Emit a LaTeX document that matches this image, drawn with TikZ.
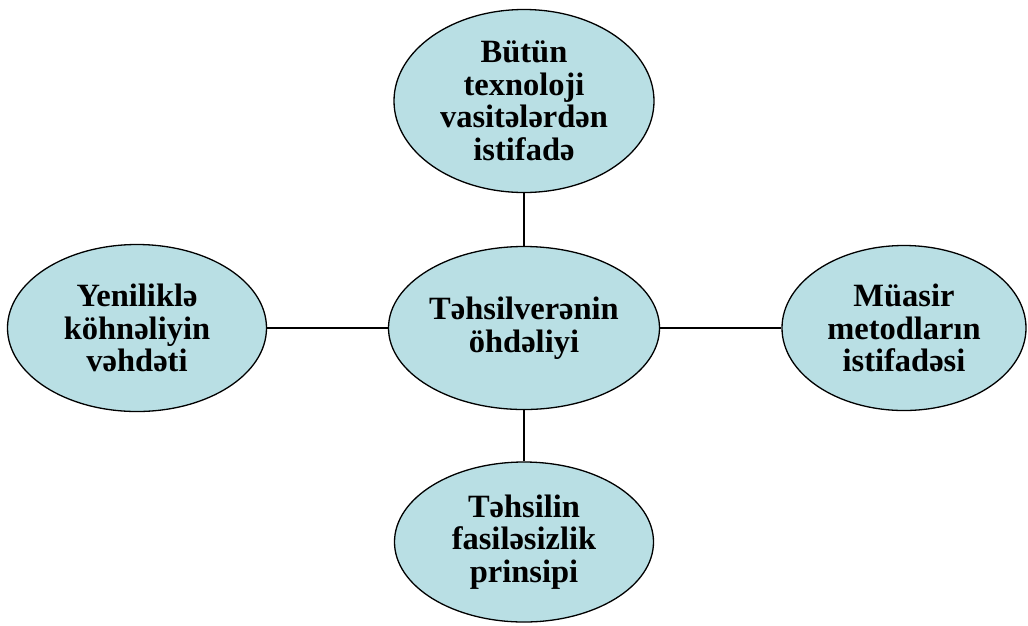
\documentclass[tikz,border=0pt]{standalone}
\usepackage{fontspec}
\setmainfont{Liberation Serif}
\usetikzlibrary{shapes.geometric}
\definecolor{fillblue}{RGB}{185,223,228}
\begin{document}
\begin{tikzpicture}[x=1pt,y=-1pt,
  oval/.style={ellipse,draw=black,line width=1.3pt,fill=fillblue,inner sep=0pt,
    align=center,font=\fontsize{32.5}{32.5}\selectfont\bfseries},
  link/.style={line width=2.4pt}]
\useasboundingbox (0,0) rectangle (1028,625);
\node[oval,minimum width=260,minimum height=183] (top) at (524,101) {Bütün\\texnoloji\\vasitələrdən\\istifadə};
\node[oval,minimum width=271,minimum height=163] (mid) at (524,328) {Təhsilverənin\\öhdəliyi};
\node[oval,minimum width=259,minimum height=167] (left) at (137,328) {Yeniliklə\\köhnəliyin\\vəhdəti};
\node[oval,minimum width=244,minimum height=165] (right) at (904,328) {Müasir\\metodların\\istifadəsi};
\node[oval,minimum width=259,minimum height=160] (bot) at (524,542) {Təhsilin\\fasiləsizlik\\prinsipi};
\draw[link] (top.south) -- (mid.north);
\draw[link] (left.east) -- (mid.west);
\draw[link] (mid.east) -- (right.west);
\draw[link] (mid.south) -- (bot.north);
\end{tikzpicture}
\end{document}
